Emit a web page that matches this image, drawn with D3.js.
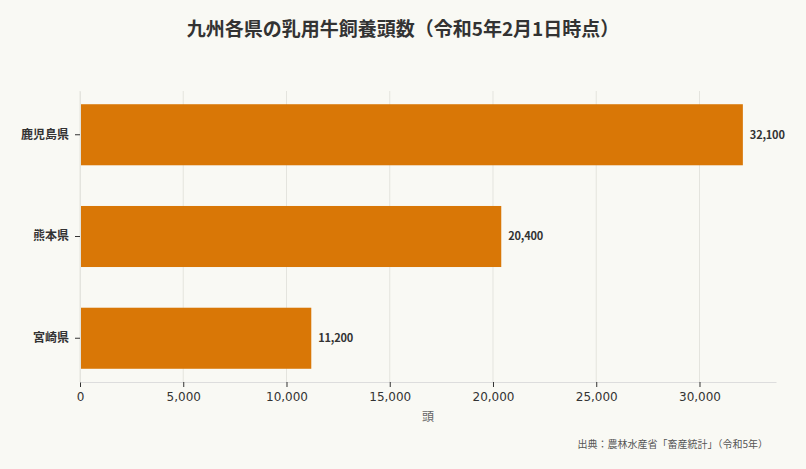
<!DOCTYPE html>
<html lang="ja">
<head>
<meta charset="utf-8" />
<title>九州各県の乳用牛飼養頭数</title>
<script src="https://cdn.jsdelivr.net/npm/d3@7"></script>
<style>
  html, body { margin: 0; padding: 0; background: #f9f9f4; }
  svg { display: block; }
  .cjk { font-family: "Noto Sans CJK JP", "Noto Sans", sans-serif; }
  .tick-num { font-family: "DejaVu Sans", sans-serif; }
</style>
</head>
<body>
<div id="chart"></div>
<script>
// 令和5年2月1日時点の乳用牛飼養頭数
const prefectures = ["鹿児島県", "熊本県", "宮崎県"];
const heads = [32100, 20400, 11200];
const xTicks = [0, 5000, 10000, 15000, 20000, 25000, 30000];

const width = 806, height = 469;
const margin = { top: 91, right: 30, bottom: 87, left: 80 };

const svg = d3.select("#chart").append("svg")
  .attr("width", width)
  .attr("height", height);

svg.append("rect").attr("width", width).attr("height", height).attr("fill", "#f9f9f4");

const x = d3.scaleLinear()
  .domain([0, d3.max(heads) * 1.05])
  .range([margin.left, width - margin.right]);

const y = d3.scaleBand()
  .domain(prefectures)
  .range([margin.top, height - margin.bottom])
  .paddingInner(0.4)
  .paddingOuter(0.13);

// grid
svg.append("g")
  .selectAll("line")
  .data(xTicks)
  .join("line")
  .attr("x1", d => x(d)).attr("x2", d => x(d))
  .attr("y1", margin.top).attr("y2", height - margin.bottom)
  .attr("stroke", "#e4e4de")
  .attr("stroke-width", 1);

// bars
svg.append("g")
  .selectAll("rect")
  .data(prefectures)
  .join("rect")
  .attr("x", x(0))
  .attr("y", d => y(d))
  .attr("width", (d, i) => x(heads[i]) - x(0))
  .attr("height", y.bandwidth())
  .attr("fill", "#d97706");

// value labels
svg.append("g")
  .selectAll("text")
  .data(prefectures)
  .join("text")
  .attr("class", "cjk")
  .attr("x", (d, i) => x(heads[i]) + 7)
  .attr("y", d => y(d) + y.bandwidth() / 2)
  .attr("dy", "0.35em")
  .attr("font-size", 11)
  .attr("letter-spacing", -0.2)
  .attr("font-weight", "bold")
  .attr("fill", "#333")
  .text((d, i) => d3.format(",")(heads[i]));

// x axis
const xAxis = svg.append("g")
  .attr("transform", `translate(0,${height - margin.bottom})`)
  .call(d3.axisBottom(x).tickValues(xTicks).tickFormat(d3.format(",")).tickSize(5).tickSizeOuter(0));
xAxis.attr("font-family", null);
xAxis.select(".domain").attr("stroke", "#ddd");
xAxis.selectAll(".tick line").attr("stroke", "#333");
xAxis.selectAll(".tick text")
  .attr("class", "tick-num")
  .attr("font-size", 12)
  .attr("fill", "#333")
  .attr("dy", "0.9em");

// y axis
const yAxis = svg.append("g")
  .attr("transform", `translate(${margin.left},0)`)
  .call(d3.axisLeft(y).tickSize(5).tickSizeOuter(0).tickPadding(6));
yAxis.attr("font-family", null);
yAxis.select(".domain").attr("stroke", "#e4e4de");
yAxis.selectAll(".tick line").attr("stroke", "#333");
yAxis.selectAll(".tick text")
  .attr("class", "cjk")
  .attr("font-size", 12)
  .attr("font-weight", "bold")
  .attr("fill", "#333");

// title
svg.append("text")
  .attr("class", "cjk")
  .attr("x", 403).attr("y", 36)
  .attr("text-anchor", "middle")
  .attr("font-size", 19)
  .attr("font-weight", "bold")
  .attr("fill", "#333")
  .text("九州各県の乳用牛飼養頭数（令和5年2月1日時点）");

// axis label
svg.append("text")
  .attr("class", "cjk")
  .attr("x", (margin.left + width - margin.right) / 2)
  .attr("y", 421)
  .attr("text-anchor", "middle")
  .attr("font-size", 12)
  .attr("fill", "#666")
  .text("頭");

// source
svg.append("text")
  .attr("class", "cjk")
  .attr("x", 768).attr("y", 448)
  .attr("text-anchor", "end")
  .attr("font-size", 10)
  .attr("fill", "#555")
  .text("出典：農林水産省「畜産統計」（令和5年）");
</script>
</body>
</html>
